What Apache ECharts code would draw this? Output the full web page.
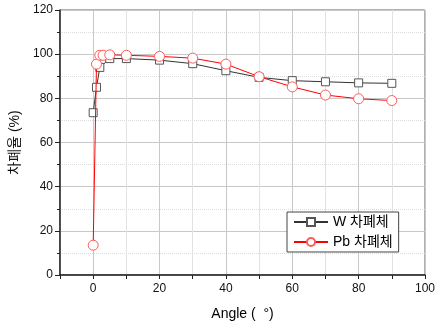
<!DOCTYPE html>
<html>
<head>
<meta charset="utf-8">
<script src="https://cdn.jsdelivr.net/npm/echarts@6/dist/echarts.min.js"></script>
<style>
  html, body { margin: 0; padding: 0; background: #fff; }
  #chart { width: 438px; height: 326px; }
</style>
</head>
<body>
<div id="chart"></div>
<script>
const wData = [
  [0, 73.5], [1, 85], [2, 94], [5, 98], [10, 98], [20, 97.3], [30, 95.7],
  [40, 92.5], [50, 89.5], [60, 88], [70, 87.5], [80, 87], [90, 86.8],
];
const pbData = [
  [0, 13.5], [1, 95.5], [2, 99.5], [3, 99.5], [5, 99.7], [10, 99.5], [20, 99],
  [30, 98.2], [40, 95.5], [50, 89.8], [60, 85.2], [70, 81.5], [80, 79.8], [90, 79],
];
const seriesNames = ["W 차폐체", "Pb 차폐체"];

const FONT = "'Liberation Sans', Arial, 'Noto Sans CJK KR', sans-serif";
const chart = echarts.init(document.getElementById("chart"), null, { renderer: "canvas" });

chart.setOption({
  animation: false,
  backgroundColor: "#fff",
  grid: {
    left: 60, right: 10, top: 10, bottom: 44,
    show: true, borderColor: "#666", borderWidth: 1,
  },
  legend: {
    data: seriesNames,
    orient: "vertical",
    left: 287, top: 212,
    itemWidth: 34, itemHeight: 10, itemGap: 6,
    padding: [3, 6, 3, 6],
    borderColor: "#444", borderWidth: 1,
    backgroundColor: "#fff",
    textStyle: { fontFamily: FONT, fontSize: 14, color: "#000" },
  },
  xAxis: {
    type: "value",
    min: -10, max: 100, interval: 10,
    name: "Angle (  °)",
    nameLocation: "middle", nameGap: 32,
    nameTextStyle: { fontFamily: FONT, fontSize: 14, color: "#000" },
    axisLine: { show: true, onZero: false, lineStyle: { color: "#222", width: 1.5 } },
    axisTick: { show: true, inside: false, length: 4, lineStyle: { color: "#222" } },
    axisLabel: {
      fontFamily: FONT, fontSize: 12, color: "#111", margin: 8,
      formatter: (v) => (v >= 0 && v % 20 === 0 ? String(v) : ""),
    },
    splitLine: { show: true, lineStyle: { color: ["#e2e2e2", "#c8c8c8"], width: 1 } },
  },
  yAxis: {
    type: "value",
    min: 0, max: 120, interval: 20,
    name: "차폐율 (%)",
    nameLocation: "middle", nameGap: 31,
    nameTextStyle: { fontFamily: FONT, fontSize: 14, color: "#111" },
    axisLine: { show: true, onZero: false, lineStyle: { color: "#222", width: 1.5 } },
    axisTick: { show: true, length: 5, lineStyle: { color: "#222" } },
    minorTick: { show: true, splitNumber: 2, length: 3, lineStyle: { color: "#222" } },
    axisLabel: { fontFamily: FONT, fontSize: 12, color: "#111", margin: 7 },
    splitLine: { show: true, lineStyle: { color: "#c8c8c8", width: 1 } },
    minorSplitLine: { show: true, lineStyle: { color: "#dcdcdc", type: "dotted", width: 1 } },
  },
  series: [
    {
      name: seriesNames[0],
      type: "line",
      data: wData,
      symbol: "rect",
      symbolSize: 8,
      lineStyle: { color: "#333", width: 1 },
      itemStyle: { color: "#fff", borderColor: "#555", borderWidth: 1 },
      z: 2,
    },
    {
      name: seriesNames[1],
      type: "line",
      data: pbData,
      symbol: "circle",
      symbolSize: 10,
      lineStyle: { color: "#ff0000", width: 1 },
      itemStyle: { color: "#fff", borderColor: "#ff5a5a", borderWidth: 1 },
      z: 3,
    },
  ],
});
</script>
</body>
</html>
